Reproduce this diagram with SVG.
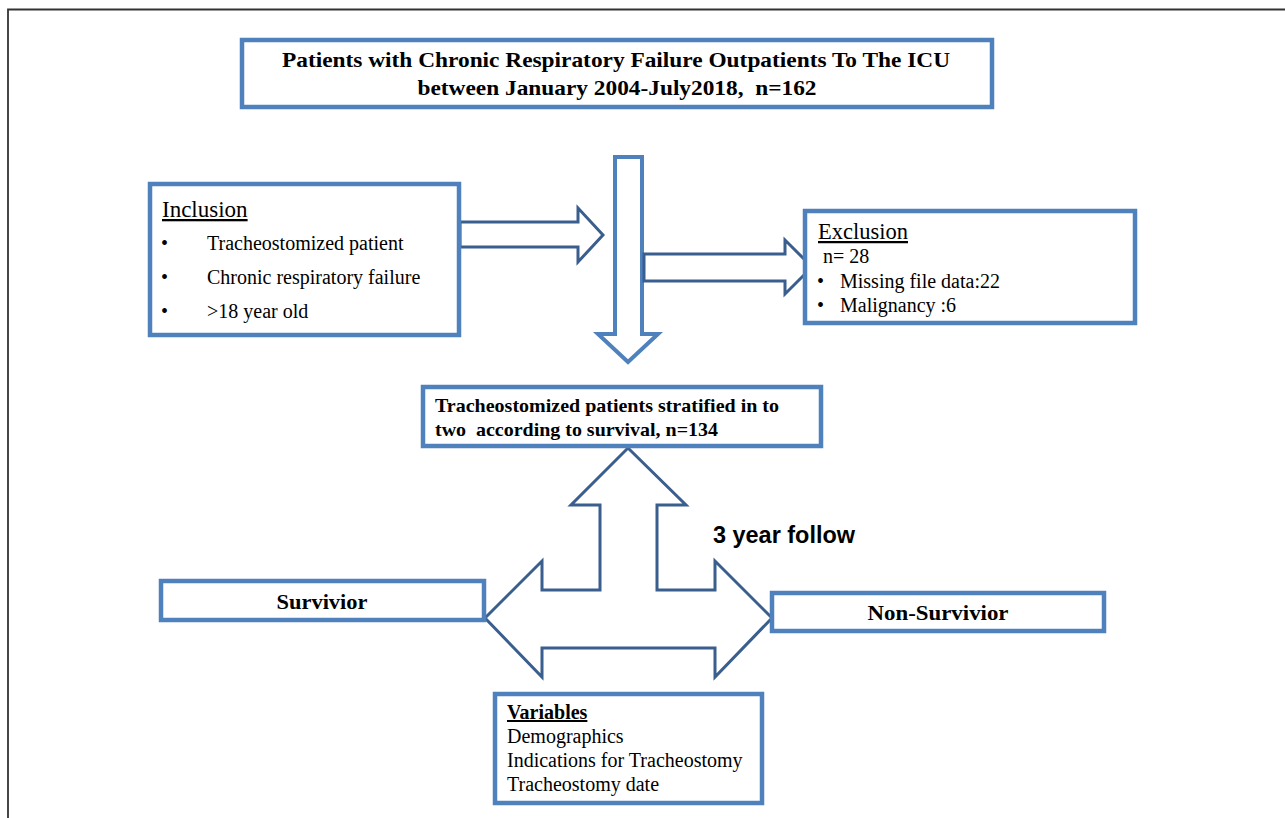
<svg xmlns="http://www.w3.org/2000/svg" width="1285" height="818" viewBox="0 0 1285 818">
<style>
.box{fill:#fff;stroke:#4F81BD;stroke-width:4.5}
.darr{fill:#fff;stroke:#3A5F8E;stroke-width:3;stroke-linejoin:miter}
.larr{fill:#fff;stroke:#4F81BD;stroke-width:4}
.serif{font-family:"Liberation Serif","Times New Roman",serif;fill:#000}
.b{font-weight:bold}
.u{text-decoration:underline}
</style>
<rect width="1285" height="818" fill="#fff"/>
<path d="M8,818 V9.5 H1285" fill="none" stroke="#333" stroke-width="1.8"/>

<g id="title">
<rect class="box" x="242" y="40" width="750" height="67"/>
<text class="serif b" x="616" y="67" font-size="22" text-anchor="middle" textLength="668" lengthAdjust="spacingAndGlyphs">Patients with Chronic Respiratory Failure Outpatients To The ICU</text>
<text class="serif b" x="617" y="95" font-size="22" text-anchor="middle" textLength="399" lengthAdjust="spacingAndGlyphs" xml:space="preserve">between January 2004-July2018,  n=162</text>
</g>

<g id="connectors">
<path class="darr" d="M460,222 H578 V208 L603,235 L578,262 V247 H460 Z"/>
<path class="larr" d="M615,157 H642 V334 H658 L628,362 L598,334 H615 Z"/>
<path class="darr" d="M644,254 H785 V240 L812,267 L785,294 V281 H644 Z"/>
<path class="darr" d="M628,448 L686,505 H657 V590 H715 V561 L772,618 L715,677 V648 H542 V677 L485,618 L542,561 V590 H600 V505 H571 Z"/>
</g>

<g id="inclusion">
<rect class="box" x="150" y="184" width="309" height="151"/>
<text class="serif u" x="162" y="217" font-size="23">Inclusion</text>
<text class="serif" font-size="20">
<tspan x="161" y="250">•</tspan><tspan x="207" y="250">Tracheostomized patient</tspan>
<tspan x="161" y="284">•</tspan><tspan x="207" y="284">Chronic respiratory failure</tspan>
<tspan x="161" y="318">•</tspan><tspan x="207" y="318">&gt;18 year old</tspan>
</text>
</g>

<g id="exclusion">
<rect class="box" x="805" y="211" width="330" height="112"/>
<text class="serif u" x="818" y="239" font-size="22.5">Exclusion</text>
<text class="serif" font-size="20">
<tspan x="823" y="263">n= 28</tspan>
<tspan x="817" y="288">•</tspan><tspan x="840" y="288">Missing file data:22</tspan>
<tspan x="817" y="312">•</tspan><tspan x="840" y="312">Malignancy :6</tspan>
</text>
</g>

<g id="stratified">
<rect class="box" x="423" y="387" width="398" height="59"/>
<text class="serif b" x="435" y="412" font-size="19" textLength="344" lengthAdjust="spacingAndGlyphs">Tracheostomized patients stratified in to</text>
<text class="serif b" x="435" y="436" font-size="19" textLength="283" lengthAdjust="spacingAndGlyphs" xml:space="preserve">two  according to survival, n=134</text>
</g>

<g id="follow">
<text x="713" y="543" font-family="'Liberation Sans',Arial,sans-serif" font-weight="bold" font-size="24" textLength="142" lengthAdjust="spacingAndGlyphs">3 year follow</text>
</g>

<g id="survivor">
<rect class="box" x="161" y="581" width="323" height="39"/>
<text class="serif b" x="322" y="609" font-size="22" text-anchor="middle" textLength="91" lengthAdjust="spacingAndGlyphs">Survivior</text>
</g>

<g id="nonsurvivor">
<rect class="box" x="772" y="593" width="332" height="38"/>
<text class="serif b" x="938" y="620" font-size="22" text-anchor="middle" textLength="141" lengthAdjust="spacingAndGlyphs">Non-Survivior</text>
</g>

<g id="variables">
<rect class="box" x="495" y="694" width="267" height="109"/>
<text class="serif b u" x="507" y="719" font-size="20">Variables</text>
<text class="serif" font-size="20">
<tspan x="507" y="743">Demographics</tspan>
<tspan x="507" y="767">Indications for Tracheostomy</tspan>
<tspan x="507" y="791">Tracheostomy date</tspan>
</text>
</g>
</svg>
